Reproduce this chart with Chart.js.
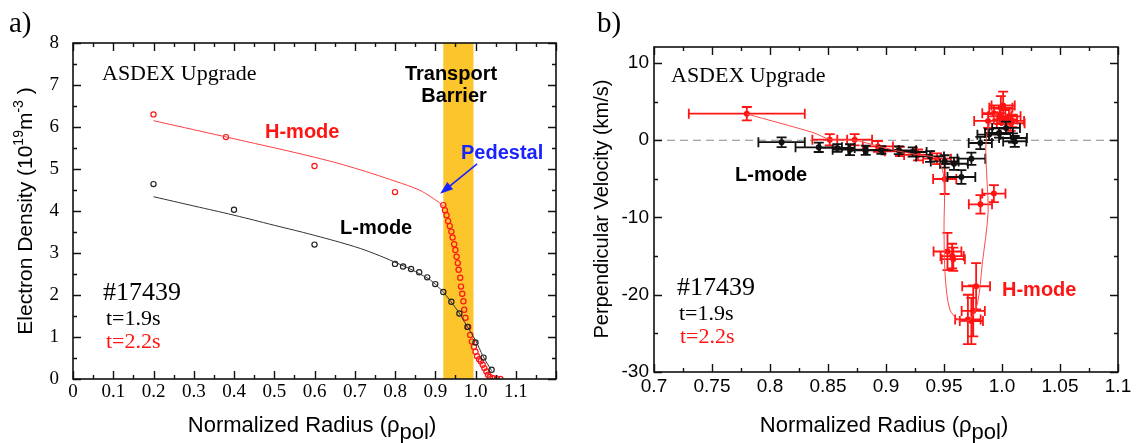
<!DOCTYPE html>
<html>
<head>
<meta charset="utf-8">
<script src="https://cdn.jsdelivr.net/npm/chart.js@4.4.0/dist/chart.umd.min.js"></script>
<style>
  html, body { margin: 0; padding: 0; background: #fff; }
  #wrap { position: relative; width: 1141px; height: 443px; }
  #chartA { position: absolute; left: 0; top: 0; }
  #chartB { position: absolute; left: 570px; top: 0; }
</style>
</head>
<body>
<div id="wrap">
  <canvas id="chartA" width="570" height="443"></canvas>
  <canvas id="chartB" width="571" height="443"></canvas>
</div>
<script>
const SERIF = '"Liberation Serif", "Times New Roman", serif';
const SANS = '"Liberation Sans", Arial, sans-serif';

// ---------- panel a) electron density ----------
const xTicksA = [0, 0.1, 0.2, 0.3, 0.4, 0.5, 0.6, 0.7, 0.8, 0.9, 1.0, 1.1];
const xLabelsA = ['0', '0.1', '0.2', '0.3', '0.4', '0.5', '0.6', '0.7', '0.8', '0.9', '1.0', '1.1'];
const yTicksA = [0, 1, 2, 3, 4, 5, 6, 7, 8];
const yLabelsA = ['0', '1', '2', '3', '4', '5', '6', '7', '8'];

// H-mode (t=2.2s) measured points
const hModeRho = [0.2, 0.38, 0.6, 0.8, 0.920, 0.924, 0.928, 0.932, 0.936, 0.940, 0.943, 0.947, 0.950, 0.953,
  0.956, 0.958, 0.962, 0.964, 0.967, 0.970, 0.972, 0.975, 0.982, 0.987, 0.991, 0.996, 1.000, 1.004, 1.009,
  1.013, 1.018, 1.022, 1.027, 1.031, 1.036, 1.044, 1.053, 1.062];
const hModeNe = [6.30, 5.76, 5.07, 4.45, 4.14, 4.02, 3.90, 3.76, 3.64, 3.51, 3.37, 3.21, 3.07, 2.91,
  2.76, 2.60, 2.41, 2.20, 2.03, 1.85, 1.65, 1.46, 1.24, 1.05, 0.89, 0.77, 0.65, 0.54, 0.47,
  0.42, 0.34, 0.26, 0.18, 0.10, 0.05, 0.02, 0.01, 0.0];
// H-mode fit
const hFitRho = [0.2, 0.4, 0.6, 0.7, 0.8, 0.86, 0.89, 0.91, 0.92];
const hFitNe = [6.15, 5.72, 5.28, 5.02, 4.71, 4.50, 4.33, 4.20, 4.12];

// L-mode (t=1.9s) measured points
const lModeRho = [0.2, 0.4, 0.6, 0.8, 0.82, 0.84, 0.86, 0.88, 0.90, 0.92, 0.94, 0.96, 0.98, 1.00, 1.02, 1.04];
const lModeNe = [4.64, 4.03, 3.20, 2.74, 2.68, 2.62, 2.54, 2.42, 2.26, 2.07, 1.84, 1.56, 1.24, 0.87, 0.51, 0.22];
// L-mode fit
const lFitRho = [0.2, 0.3, 0.4, 0.5, 0.6, 0.7, 0.75, 0.8, 0.85, 0.9, 0.95, 0.98, 1.0, 1.02, 1.04];
const lFitNe = [4.34, 4.12, 3.90, 3.66, 3.42, 3.15, 2.98, 2.78, 2.56, 2.26, 1.70, 1.24, 0.92, 0.52, 0.20];

const barrierRho = [0.92, 0.995];
const pedestalArrow = [[1.004, 5.12], [0.912, 4.41]];

// ---------- panel b) perpendicular velocity ----------
const xTicksB = [0.7, 0.75, 0.8, 0.85, 0.9, 0.95, 1.0, 1.05, 1.1];
const xLabelsB = ['0.7', '0.75', '0.8', '0.85', '0.9', '0.95', '1.0', '1.05', '1.1'];
const yTicksB = [-30, -20, -10, 0, 10];
const yLabelsB = ['-30', '-20', '-10', '0', '10'];

// L-mode velocity
const lVelRho = [0.810, 0.842, 0.858, 0.869, 0.8825, 0.896, 0.911, 0.923, 0.938, 0.9506, 0.9586, 0.965,
  0.9736, 0.9813, 0.9888, 0.9974, 1.0035, 1.0095, 1.011];
const lVel = [-0.25, -0.92, -1.0, -1.22, -1.3, -1.25, -1.3, -1.52, -2.1, -2.74, -3.04, -4.76,
  -2.39, -0.36, 0.72, 0.94, 1.6, 0.29, -0.15];
const lVelRhoErr = [0.020, 0.020, 0.015, 0.015, 0.015, 0.015, 0.015, 0.012, 0.012, 0.012, 0.012, 0.012,
  0.012, 0.010, 0.010, 0.012, 0.012, 0.012, 0.010];
const lVelErr = [0.63, 0.6, 0.5, 0.7, 0.6, 0.5, 0.5, 0.6, 0.7, 0.8, 0.8, 0.9,
  0.8, 0.8, 0.7, 0.6, 0.8, 0.6, 0.7];

// H-mode velocity
const hVelRho = [0.780, 0.8515, 0.873, 0.893, 0.912, 0.9276, 0.944, 0.9506, 0.953, 0.957, 0.958,
  0.9706, 0.9736, 0.9752, 0.9777, 0.9814, 0.993, 0.988, 0.993, 0.999, 1.001, 0.998, 1.003, 1.006, 1.0075, 1.009];
const hVel = [3.44, 0.07, 0.07, -0.8, -1.44, -1.9, -2.39, -5.02, -14.4, -15.0, -15.4,
  -23.2, -23.4, -22.1, -18.9, -8.3, -6.9, 2.5, 3.5, 4.2, 4.5, 3.1, 2.7, 3.1, 2.2, 2.5];
const hVelRhoErr = [0.050, 0.015, 0.015, 0.013, 0.013, 0.012, 0.012, 0.010, 0.012, 0.010, 0.010,
  0.011, 0.010, 0.010, 0.012, 0.010, 0.010, 0.012, 0.010, 0.010, 0.010, 0.010, 0.010, 0.010, 0.012, 0.010];
const hVelErr = [0.86, 0.73, 0.73, 0.7, 0.6, 0.7, 0.7, 1.94, 2.4, 1.6, 1.5,
  3.2, 3.0, 3.3, 3.0, 1.2, 1.1, 0.9, 1.0, 1.5, 1.8, 1.0, 1.2, 1.0, 1.0, 0.8];

// H-mode guide line
const hGuideRho = [0.780, 0.837, 0.852, 0.873, 0.894, 0.912, 0.928, 0.944, 0.950, 0.950, 0.951, 0.955,
  0.963, 0.972, 0.979, 0.983, 0.988, 0.987, 0.986, 0.988, 0.995];
const hGuideVel = [3.4, 1.0, 0.1, 0.0, -0.8, -1.45, -1.9, -2.4, -5.0, -11.5, -17.5, -21.9,
  -23.3, -23.3, -21.0, -16.0, -9.4, -5.0, -1.2, 1.5, 3.5];

const RED = '#ff1414';
const BLACK = '#111111';

const pts = (xs, ys) => xs.map((x, i) => ({ x: x, y: ys[i] }));

function marks(min, max, step, every) {
  const out = [];
  const n = Math.round((max - min) / step);
  for (let i = 0; i <= n; i++) out.push([min + i * step, i % every === 0]);
  return out;
}

// frame with inward ticks on all four sides
const frameTicks = {
  id: 'frameTicks',
  afterDraw(chart, args, o) {
    const { ctx, chartArea: a, scales: { x, y } } = chart;
    ctx.save();
    ctx.strokeStyle = BLACK;
    ctx.lineWidth = 1.4;
    ctx.beginPath();
    o.xMarks.forEach(([v, major]) => {
      const px = Math.round(x.getPixelForValue(v)) + 0.5;
      const len = major ? 8 : 4;
      ctx.moveTo(px, a.bottom); ctx.lineTo(px, a.bottom - len);
      ctx.moveTo(px, a.top); ctx.lineTo(px, a.top + len);
    });
    o.yMarks.forEach(([v, major]) => {
      const py = Math.round(y.getPixelForValue(v)) + 0.5;
      const len = major ? 8 : 4;
      ctx.moveTo(a.left, py); ctx.lineTo(a.left + len, py);
      ctx.moveTo(a.right, py); ctx.lineTo(a.right - len, py);
    });
    ctx.stroke();
    ctx.lineWidth = 1.6;
    ctx.strokeRect(a.left, a.top, a.right - a.left, a.bottom - a.top);
    ctx.restore();
  }
};

// rich text (sub/superscripts) for axis titles
function drawRich(ctx, parts, x, y, size, rotate) {
  ctx.save();
  ctx.translate(x, y);
  if (rotate) ctx.rotate(-Math.PI / 2);
  let total = 0;
  parts.forEach(p => {
    ctx.font = Math.round(size * (p.scale || 1)) + 'px ' + SANS;
    p.w = ctx.measureText(p.text).width;
    total += p.w;
  });
  let cx = -total / 2;
  ctx.textAlign = 'left';
  ctx.textBaseline = 'alphabetic';
  ctx.fillStyle = '#000';
  parts.forEach(p => {
    ctx.font = Math.round(size * (p.scale || 1)) + 'px ' + SANS;
    ctx.fillText(p.text, cx, (p.dy || 0) * size);
    cx += p.w;
  });
  ctx.restore();
}

const labels = {
  id: 'labels',
  afterDraw(chart, args, o) {
    const ctx = chart.ctx;
    o.titles.forEach(t => drawRich(ctx, t.parts, t.x, t.y, t.size, t.rotate));
    o.texts.forEach(t => {
      ctx.save();
      ctx.font = t.font;
      ctx.fillStyle = t.color || '#000';
      ctx.textAlign = t.align || 'left';
      ctx.textBaseline = 'alphabetic';
      ctx.fillText(t.text, t.x, t.y);
      ctx.restore();
    });
  }
};

// transport barrier band + pedestal arrow (panel a)
const barrier = {
  id: 'barrier',
  beforeDatasetsDraw(chart, args, o) {
    if (!o.band) return;
    const { ctx, chartArea: a, scales: { x } } = chart;
    const x0 = x.getPixelForValue(o.band[0]), x1 = x.getPixelForValue(o.band[1]);
    ctx.save();
    ctx.fillStyle = '#fcc52b';
    ctx.fillRect(x0, a.top, x1 - x0, a.bottom - a.top);
    ctx.restore();
  },
  afterDatasetsDraw(chart, args, o) {
    if (!o.arrow) return;
    const { ctx, scales: { x, y } } = chart;
    const x0 = x.getPixelForValue(o.arrow[0][0]), y0 = y.getPixelForValue(o.arrow[0][1]);
    const x1 = x.getPixelForValue(o.arrow[1][0]), y1 = y.getPixelForValue(o.arrow[1][1]);
    const ang = Math.atan2(y1 - y0, x1 - x0);
    ctx.save();
    ctx.strokeStyle = '#1a22ff';
    ctx.fillStyle = '#1a22ff';
    ctx.lineWidth = 1.6;
    ctx.beginPath();
    ctx.moveTo(x0, y0);
    ctx.lineTo(x1 - 10 * Math.cos(ang), y1 - 10 * Math.sin(ang));
    ctx.stroke();
    ctx.beginPath();
    ctx.moveTo(x1, y1);
    ctx.lineTo(x1 - 13 * Math.cos(ang) + 4.5 * Math.sin(ang), y1 - 13 * Math.sin(ang) - 4.5 * Math.cos(ang));
    ctx.lineTo(x1 - 13 * Math.cos(ang) - 4.5 * Math.sin(ang), y1 - 13 * Math.sin(ang) + 4.5 * Math.cos(ang));
    ctx.closePath();
    ctx.fill();
    ctx.restore();
  }
};

// zero line + error bars (panel b)
const errorBars = {
  id: 'errorBars',
  beforeDatasetsDraw(chart, args, o) {
    if (o.zero === undefined) return;
    const { ctx, chartArea: a, scales: { y } } = chart;
    const py = y.getPixelForValue(o.zero);
    ctx.save();
    ctx.strokeStyle = '#8a8a8a';
    ctx.lineWidth = 1.2;
    ctx.setLineDash([8, 5]);
    ctx.beginPath();
    ctx.moveTo(a.left, py); ctx.lineTo(a.right, py);
    ctx.stroke();
    ctx.restore();
  },
  beforeDatasetDraw(chart, args) {
    const ds = chart.data.datasets[args.index];
    if (!ds.xErr) return;
    const { ctx, scales: { x, y } } = chart;
    const cap = 5;
    ctx.save();
    ctx.strokeStyle = ds.borderColor;
    ctx.lineWidth = 1.8;
    ctx.beginPath();
    ds.data.forEach((p, i) => {
      const px = x.getPixelForValue(p.x), py = y.getPixelForValue(p.y);
      const x0 = x.getPixelForValue(p.x - ds.xErr[i]), x1 = x.getPixelForValue(p.x + ds.xErr[i]);
      const y0 = y.getPixelForValue(p.y - ds.yErr[i]), y1 = y.getPixelForValue(p.y + ds.yErr[i]);
      ctx.moveTo(x0, py); ctx.lineTo(x1, py);
      ctx.moveTo(x0, py - cap); ctx.lineTo(x0, py + cap);
      ctx.moveTo(x1, py - cap); ctx.lineTo(x1, py + cap);
      ctx.moveTo(px, y0); ctx.lineTo(px, y1);
      ctx.moveTo(px - cap, y0); ctx.lineTo(px + cap, y0);
      ctx.moveTo(px - cap, y1); ctx.lineTo(px + cap, y1);
    });
    ctx.stroke();
    ctx.restore();
  }
};

function axis(min, max, ticks, tickLabels, font, size, padding, fit) {
  return {
    type: 'linear', min: min, max: max,
    afterBuildTicks: s => { s.ticks = ticks.map(v => ({ value: v })); },
    afterFit: fit,
    grid: { display: false, drawTicks: false },
    border: { display: false },
    ticks: {
      autoSkip: false, maxRotation: 0, padding: padding, color: '#000',
      font: { family: font, size: size },
      callback: (v, i) => tickLabels[i]
    }
  };
}

const radiusTitle = [{ text: 'Normalized Radius (ρ' }, { text: 'pol', scale: 1.0, dy: 0.3 }, { text: ')' }];

// ---------- chart a ----------
new Chart(document.getElementById('chartA'), {
  type: 'scatter',
  data: {
    datasets: [
      { data: pts(lFitRho, lFitNe), showLine: true, borderColor: '#333', borderWidth: 1, pointRadius: 0, tension: 0.4 },
      { data: pts(hFitRho, hFitNe), showLine: true, borderColor: '#ff4040', borderWidth: 1, pointRadius: 0, tension: 0.4 },
      { data: pts(lModeRho, lModeNe), borderColor: '#222', backgroundColor: 'rgba(0,0,0,0)', pointRadius: 2.6, pointBorderWidth: 1.2 },
      { data: pts(hModeRho, hModeNe), borderColor: RED, backgroundColor: 'rgba(0,0,0,0)', pointRadius: 2.6, pointBorderWidth: 1.2 }
    ]
  },
  options: {
    responsive: false, animation: false, devicePixelRatio: 1,
    layout: { padding: { left: 0, right: 14, top: 43, bottom: 0 } },
    plugins: {
      legend: { display: false }, tooltip: { enabled: false },
      frameTicks: { xMarks: marks(0, 1.2, 0.05, 2), yMarks: marks(0, 8, 0.5, 2) },
      barrier: { band: barrierRho, arrow: pedestalArrow },
      labels: {
        titles: [
          { parts: [{ text: 'Electron Density (10' }, { text: '19', scale: 0.65, dy: -0.45 }, { text: 'm' }, { text: '-3', scale: 0.65, dy: -0.45 }, { text: ' )' }], x: 32, y: 211, size: 21, rotate: true },
          { parts: radiusTitle, x: 312, y: 432, size: 22 }
        ],
        texts: [
          { text: 'a)', x: 9, y: 32, font: '29px ' + SERIF },
          { text: 'ASDEX Upgrade', x: 102, y: 80, font: '22px ' + SERIF },
          { text: 'Transport', x: 451, y: 80, font: 'bold 20px ' + SANS, align: 'center' },
          { text: 'Barrier', x: 454, y: 102, font: 'bold 20px ' + SANS, align: 'center' },
          { text: 'H-mode', x: 265, y: 138, font: 'bold 20px ' + SANS, color: RED },
          { text: 'Pedestal', x: 461, y: 159, font: 'bold 20px ' + SANS, color: '#1a22ff' },
          { text: 'L-mode', x: 340, y: 234, font: 'bold 20px ' + SANS },
          { text: '#17439', x: 103, y: 300, font: '26px ' + SERIF },
          { text: 't=1.9s', x: 106, y: 325, font: '22px ' + SERIF },
          { text: 't=2.2s', x: 106, y: 348, font: '22px ' + SERIF, color: RED }
        ]
      }
    },
    scales: {
      x: axis(0, 1.2, xTicksA, xLabelsA, SERIF, 19, 2, s => { s.height = 64; }),
      y: axis(0, 8, yTicksA, yLabelsA, SERIF, 19, 14, s => { s.width = 73; })
    }
  },
  plugins: [barrier, frameTicks, labels]
});

// ---------- chart b ----------
new Chart(document.getElementById('chartB'), {
  type: 'scatter',
  data: {
    datasets: [
      { data: pts(hGuideRho, hGuideVel), showLine: true, borderColor: '#ff4a4a', borderWidth: 1, pointRadius: 0, tension: 0.3 },
      { data: pts(lVelRho, lVel), xErr: lVelRhoErr, yErr: lVelErr, borderColor: BLACK, backgroundColor: BLACK, pointRadius: 3, pointBorderWidth: 0 },
      { data: pts(hVelRho, hVel), xErr: hVelRhoErr, yErr: hVelErr, borderColor: RED, backgroundColor: RED, pointRadius: 3, pointBorderWidth: 0 }
    ]
  },
  options: {
    responsive: false, animation: false, devicePixelRatio: 1,
    layout: { padding: { left: 0, right: 23, top: 47, bottom: 0 } },
    plugins: {
      legend: { display: false }, tooltip: { enabled: false },
      frameTicks: { xMarks: marks(0.7, 1.1, 0.025, 2), yMarks: marks(-30, 10, 5, 2) },
      errorBars: { zero: 0 },
      labels: {
        titles: [
          { parts: [{ text: 'Perpendicular Velocity (km/s)' }], x: 38, y: 209, size: 20, rotate: true },
          { parts: radiusTitle, x: 314, y: 432, size: 22 }
        ],
        texts: [
          { text: 'b)', x: 27, y: 32, font: '29px ' + SERIF },
          { text: 'ASDEX Upgrade', x: 101, y: 82, font: '22px ' + SERIF },
          { text: 'L-mode', x: 165, y: 181, font: 'bold 20px ' + SANS },
          { text: 'H-mode', x: 432, y: 296, font: 'bold 20px ' + SANS, color: RED },
          { text: '#17439', x: 107, y: 295, font: '26px ' + SERIF },
          { text: 't=1.9s', x: 109, y: 320, font: '22px ' + SERIF },
          { text: 't=2.2s', x: 110, y: 343, font: '22px ' + SERIF, color: RED }
        ]
      }
    },
    scales: {
      x: axis(0.7, 1.1, xTicksB, xLabelsB, SANS, 19, 3, s => { s.height = 71; }),
      y: axis(-30, 12.07, yTicksB, yLabelsB, SANS, 19, 5, s => { s.width = 84; })
    }
  },
  plugins: [errorBars, frameTicks, labels]
});
</script>
</body>
</html>
